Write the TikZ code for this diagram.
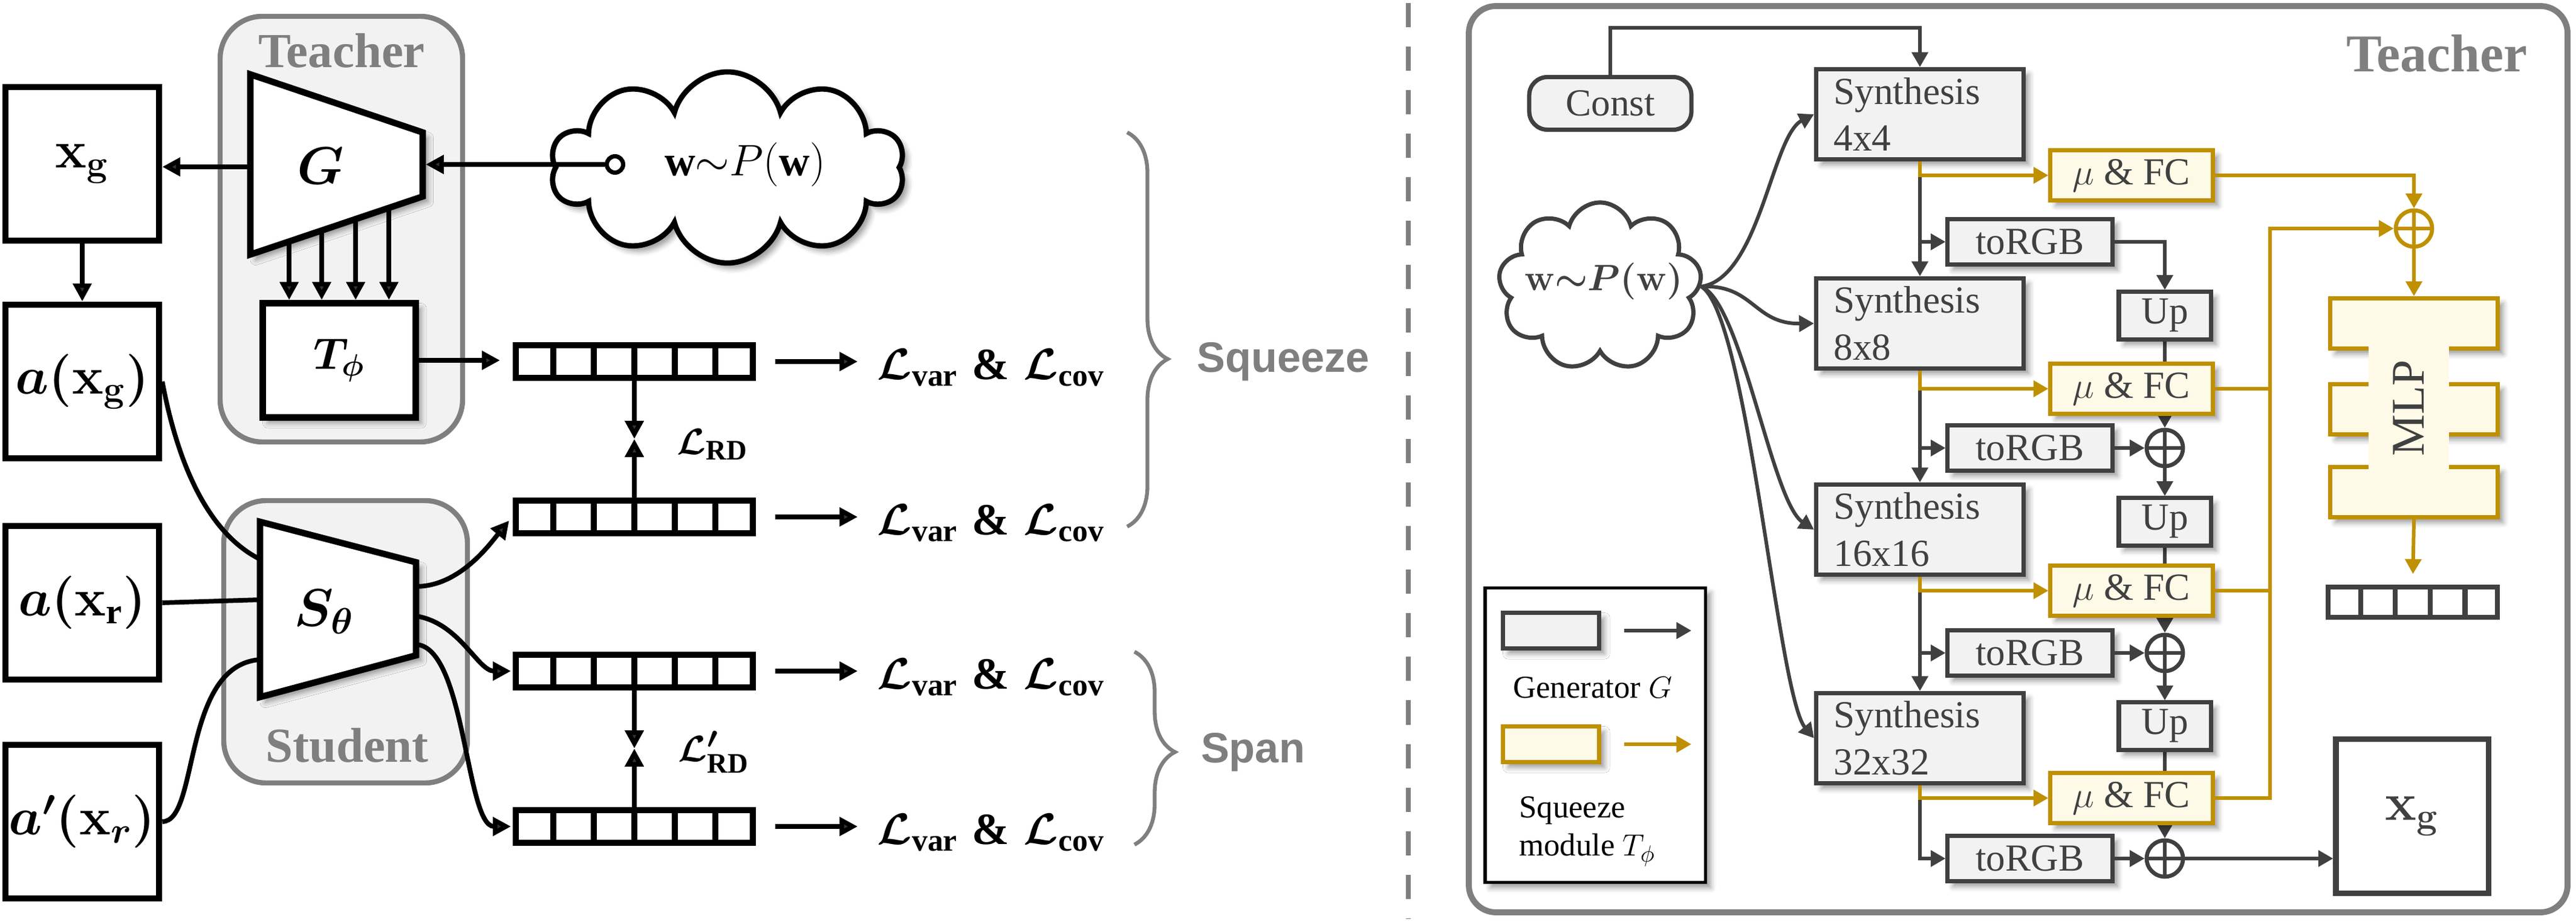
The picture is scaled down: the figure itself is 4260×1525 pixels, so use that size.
\documentclass[tikz,border=0pt]{standalone}
\usepackage{amsmath}
\usepackage{fontspec}
\setmainfont{Liberation Serif}
\newfontfamily\arialfont{Liberation Sans}
\usepackage{tikz}
\usetikzlibrary{arrows.meta,calc,shapes.symbols,shadows.blur,decorations.pathreplacing}
\definecolor{dgray}{HTML}{404040}
\definecolor{mgray}{HTML}{7F7F7F}
\definecolor{lgray}{HTML}{F2F2F2}
\definecolor{gold}{HTML}{BF9000}
\definecolor{cream}{HTML}{FFF9E8}
\pgfdeclarelayer{back}
\pgfsetlayers{back,main}

\tikzset{
  softshadow/.style={blur shadow={shadow xshift=2.5pt,shadow yshift=-2.5pt,shadow blur radius=2.5pt,shadow opacity=40}},
  arr/.style={line width=2.2pt,-{Triangle[length=8.5pt,width=8.5pt]}},
  darr/.style={draw=dgray,line width=1.7pt,-{Triangle[length=7pt,width=7.5pt]}},
  oarr/.style={draw=gold,line width=1.7pt,-{Triangle[length=7pt,width=7.5pt]}},
  oline/.style={draw=gold,line width=1.7pt},
  inbox/.style={draw,line width=3pt,fill=white,minimum width=2.54cm,minimum height=2.54cm,inner sep=0pt,font=\fontsize{24}{28}\selectfont\boldmath},
  vecbox/.style={draw,line width=2.8pt,minimum width=3.92cm,minimum height=0.54cm,inner sep=0pt},
  lossl/.style={anchor=west,inner sep=0pt,font=\fontsize{21}{25}\selectfont\boldmath},
  grp/.style={draw=mgray,fill=lgray,line width=2.4pt,rounded corners=0.7cm},
  grplbl/.style={text=mgray,font=\fontsize{23}{27}\selectfont\bfseries},
  synth/.style={draw=dgray,fill=lgray,line width=2pt,minimum width=3.43cm,minimum height=1.49cm,text width=2.85cm,align=left,inner sep=0pt,text=dgray,font=\fontsize{18}{22}\selectfont,softshadow},
  rgbbox/.style={draw=dgray,fill=lgray,line width=2pt,minimum width=2.72cm,minimum height=0.75cm,inner sep=0pt,text=dgray,font=\fontsize{18}{22}\selectfont,softshadow},
  upbox/.style={rgbbox,minimum width=1.52cm,minimum height=0.78cm},
  fcbox/.style={draw=gold,fill=cream,line width=2pt,minimum width=2.68cm,minimum height=0.82cm,inner sep=0pt,text=dgray,font=\fontsize{18}{22}\selectfont,softshadow},
  sumnode/.style={circle,draw=#1,fill=white,line width=1.9pt,minimum size=0.6cm,inner sep=0pt,
    path picture={\draw[#1,line width=1.9pt] (path picture bounding box.north) -- (path picture bounding box.south) (path picture bounding box.west) -- (path picture bounding box.east);}},
  bar/.style={draw=gold,fill=cream,line width=2pt,minimum width=2.77cm,minimum height=0.83cm,inner sep=0pt,softshadow},
}

\begin{document}
\begin{tikzpicture}[x=0.01cm,y=-0.01cm,line join=miter]
\useasboundingbox (0,0) rectangle (4260,1525);

% groups
\draw[grp] (364,27) rectangle (765,731);
\node[grplbl] (teach) at (565,84) {Teacher};
\draw[grp] (370,828) rectangle (773,1295);
\node[grplbl] (stud) at (574,1233) {Student};

% inputs
\node[inbox] (xg) at (136,271) {$\mathbf{x}_{\mathbf{g}}$};
\node[inbox] (axg) at (136,631) {$a(\mathbf{x}_{\mathbf{g}})$};
\node[inbox] (axr) at (136,997) {$a(\mathbf{x}_{\mathrm{r}})$};
\node[inbox] (apxr) at (136,1359) {$a'(\mathbf{x}_{r})$};

% generator
\coordinate (g1) at (414,123);
\coordinate (g2) at (699,219);
\coordinate (g3) at (699,325);
\coordinate (g4) at (414,421);
\coordinate (gl) at (414,276);
\coordinate (gr) at (704,274);
\draw[line width=3pt,fill=white,softshadow] (g1) -- (g2) -- (g3) -- (g4) -- cycle;
\node[font=\fontsize{25}{30}\selectfont\boldmath] (gname) at (530,274) {$G$};

\node[draw,line width=3pt,fill=white,minimum width=2.53cm,minimum height=1.89cm,inner sep=0pt,
  font=\fontsize{22}{26}\selectfont\boldmath,softshadow] (tphi) at (561,596) {$T_{\phi}$};

% student
\coordinate (s1) at (430,863);
\coordinate (s2) at (688,930);
\coordinate (s3) at (688,1084);
\coordinate (s4) at (430,1153);
\draw[line width=3pt,fill=white,softshadow] (s1) -- (s2) -- (s3) -- (s4) -- cycle;
\node[font=\fontsize{24}{28}\selectfont\boldmath] (sname) at (536,1012) {$S_{\theta}$};

% latent code
\node[cloud,cloud puffs=10,cloud ignores aspect,draw,line width=2.5pt,fill=white,
  minimum width=5.85cm,minimum height=3.16cm,softshadow] (wcl) at (1203,277) {};
\node[font=\fontsize{20}{24}\selectfont] (wtl) at (1232,272) {$\mathbf{w}{\sim}P(\mathbf{w})$};
\node[circle,draw,line width=2pt,fill=white,minimum size=0.27cm,inner sep=0pt] (src) at (1017,272) {};

% vectors
\node[vecbox] (v1) at (1049,598) {};
\node[vecbox] (v2) at (1049,855) {};
\node[vecbox] (v3) at (1049,1110) {};
\node[vecbox] (v4) at (1049,1367) {};
\foreach \vn in {v1,v2,v3,v4}
  \foreach \k in {1,...,5}
    \draw[line width=2.8pt] ($(\vn.north west)!\k/6!(\vn.north east)$) -- ($(\vn.south west)!\k/6!(\vn.south east)$);

\node[lossl] (l1) at (1450,608) {$\mathcal{L}_{\mathrm{var}}\;\&\;\mathcal{L}_{\mathrm{cov}}$};
\node[lossl] (l2) at (1450,865) {$\mathcal{L}_{\mathrm{var}}\;\&\;\mathcal{L}_{\mathrm{cov}}$};
\node[lossl] (l3) at (1450,1120) {$\mathcal{L}_{\mathrm{var}}\;\&\;\mathcal{L}_{\mathrm{cov}}$};
\node[lossl] (l4) at (1450,1377) {$\mathcal{L}_{\mathrm{var}}\;\&\;\mathcal{L}_{\mathrm{cov}}$};
\node[font=\fontsize{19}{23}\selectfont\boldmath] (lrd) at (1178,735) {$\mathcal{L}_{\mathrm{RD}}$};
\node[font=\fontsize{19}{23}\selectfont\boldmath] (lrdp) at (1180,1244) {$\mathcal{L}'_{\mathrm{RD}}$};
\coordinate (m1) at (1049,726);
\coordinate (m2) at (1049,1238);

% arrows left
\draw[arr] (gl) -- (gl -| xg.east);
\draw[arr] (src.west) -- (src.west -| gr);
\draw[arr] (xg.south) -- (axg.north);
\foreach \t in {0.225,0.414,0.611,0.804}
  \draw[arr] ($(g4)!\t!(g3)$) coordinate (p) -- (p |- tphi.north);
\draw[arr,shorten >=6pt] (tphi.east) -- (tphi.east -| v1.west);
\draw[line width=2.2pt] (axg.east) .. controls (300,800) and (360,890) .. (430,925);
\draw[line width=2.2pt] (axr.east) -- (430,992);
\draw[line width=2.2pt] (apxr.east) .. controls (330,1359) and (300,1100) .. (430,1091);
\draw[arr] (688,970) .. controls (760,970) and (810,900) .. ($(v2.west)+(-6,6)$);
\draw[arr] (688,1019) .. controls (760,1030) and (790,1110) .. ($(v3.west)+(-3,0)$);
\draw[arr] (688,1066) .. controls (770,1070) and (770,1367) .. ($(v4.west)+(-3,0)$);
\foreach \a/\b in {v1/l1,v2/l2,v3/l3,v4/l4}
  \draw[arr,shorten <=9pt,shorten >=9pt] (\a.east) -- (\a.east -| \b.west);
\draw[arr] (v1.south) -- (m1);
\draw[arr] (v2.north) -- (m1);
\draw[arr] (v3.south) -- (m2);
\draw[arr] (v4.north) -- (m2);

% braces
\draw[mgray,line width=1.8pt,decorate,decoration={brace,amplitude=0.67cm,aspect=0.575}] (1864,219) -- (1864,871);
\draw[mgray,line width=1.8pt,decorate,decoration={brace,amplitude=0.67cm,aspect=0.52}] (1876,1078) -- (1876,1397);
\node[text=mgray,font=\fontsize{20}{24}\arialfont\bfseries] (sq) at (2122,598) {Squeeze};
\node[text=mgray,font=\fontsize{20}{24}\arialfont\bfseries] (sp) at (2072,1244) {Span};

% separator
\draw[mgray,line width=2.3pt,dash pattern=on 11.4pt off 9.1pt] (2329,5) -- (2329,1520);

% right panel
\draw[mgray,line width=2.8pt,rounded corners=0.45cm] (2429,10) rectangle (4246,1509);
\node[text=mgray,font=\fontsize{25}{30}\selectfont\bfseries] (teachr) at (4030,88) {Teacher};

\node[draw=dgray,fill=lgray,line width=2pt,rounded corners=0.3cm,minimum width=2.68cm,minimum height=0.87cm,
  text=dgray,font=\fontsize{18}{22}\selectfont] (const) at (2663,171) {Const};
\node[cloud,cloud puffs=9,cloud ignores aspect,draw=dgray,line width=2pt,fill=white,
  minimum width=3.36cm,minimum height=2.78cm] (wr) at (2646,474) {};
\node[text=dgray,font=\fontsize{18}{22}\selectfont\boldmath] (wrt) at (2652,465) {$\mathbf{w}{\sim}P(\mathbf{w})$};

\node[synth] (sy1) at (3175,189) {Synthesis\\4x4};
\node[synth] (sy2) at (3175,535) {Synthesis\\8x8};
\node[synth] (sy3) at (3175,876) {Synthesis\\16x16};
\node[synth] (sy4) at (3175,1221) {Synthesis\\32x32};
\node[rgbbox] (t1) at (3357,400) {toRGB};
\node[rgbbox] (t2) at (3357,741) {toRGB};
\node[rgbbox] (t3) at (3357,1080) {toRGB};
\node[rgbbox] (t4) at (3357,1420) {toRGB};
\node[upbox] (u1) at (3580,522) {Up};
\node[upbox] (u2) at (3580,863) {Up};
\node[upbox] (u3) at (3580,1201) {Up};
\node[sumnode=dgray] (p1) at (3580,741) {};
\node[sumnode=dgray] (p2) at (3580,1080) {};
\node[sumnode=dgray] (p3) at (3580,1420) {};
\node[fcbox] (f1) at (3525,290) {$\mu$ \& FC};
\node[fcbox] (f2) at (3525,643) {$\mu$ \& FC};
\node[fcbox] (f3) at (3525,977) {$\mu$ \& FC};
\node[fcbox] (f4) at (3525,1320) {$\mu$ \& FC};
\node[sumnode=gold] (po) at (3992,378) {};

% MLP
\node[bar] (mlp1) at (3992,535) {};
\node[bar] (mlp2) at (3992,677) {};
\node[bar] (mlp3) at (3992,814) {};
\fill[cream] (3917,572) rectangle (4050,777);
\node[rotate=90,text=dgray,font=\fontsize{22}{26}\selectfont] (mlp) at (3983,675) {MLP};

\node[draw=dgray,line width=2.3pt,minimum width=2.8cm,minimum height=0.5cm,inner sep=0pt] (v5) at (3990,996) {};
\foreach \k in {1,...,4}
  \draw[dgray,line width=2.3pt] ($(v5.north west)!\k/5!(v5.north east)$) -- ($(v5.south west)!\k/5!(v5.south east)$);
\node[draw=dgray,line width=2.6pt,fill=white,minimum width=2.52cm,minimum height=2.55cm,text=dgray,
  font=\fontsize{24}{28}\selectfont\boldmath] (xgr) at (3989,1350) {$\mathbf{x}_{\mathbf{g}}$};

% legend
\node[draw,line width=1.5pt,fill=white,minimum width=3.64cm,minimum height=4.87cm,softshadow] (leg) at (2638,1216) {};
\node[draw=dgray,fill=lgray,line width=2pt,minimum width=1.59cm,minimum height=0.59cm,softshadow] (lg1) at (2565,1043) {};
\node[draw=gold,fill=cream,line width=2pt,minimum width=1.59cm,minimum height=0.59cm,softshadow] (lg2) at (2565,1231) {};
\draw[darr] ($(lg1.east)+(38,0)$) -- ++(111,0);
\draw[oarr] ($(lg2.east)+(38,0)$) -- ++(111,0);
\node[anchor=west,font=\fontsize{15}{18}\selectfont] (lgt1) at (2490,1137) {Generator $G$};
\node[anchor=west,align=left,font=\fontsize{15}{18}\selectfont] (lgt2) at (2500,1375) {Squeeze\\module $T_{\phi}$};

% connections right
\coordinate (bus) at (3754,378);
\draw[darr] (const.north) -- ++(0,-78) -| (sy1.north);
\draw[darr] (wr.east) .. controls (2910,460) and (2930,225) .. (sy1.west);
\draw[darr] (wr.east) .. controls (2900,470) and (2900,536) .. (sy2.west);
\draw[darr] (wr.east) .. controls (2880,500) and (2930,830) .. (sy3.west);
\draw[darr] (wr.east) .. controls (2890,520) and (2940,1150) .. (sy4.west);
\foreach \a/\b/\c in {sy1/sy2/t1,sy2/sy3/t2,sy3/sy4/t3}
{
  \draw[darr] (\a.south) -- (\b.north);
  \draw[darr] (\a.south |- \c.west) -- (\c.west);
}
\draw[darr] (sy4.south) |- (t4.west);
\foreach \a/\b in {sy1/f1,sy2/f2,sy3/f3,sy4/f4}
  \draw[oarr] (\a.south) |- (\b.west);
\draw[darr] (t1.east) -| (u1.north);
\begin{pgfonlayer}{back}
\draw[darr] (u1.south) -- (p1.north);
\draw[darr] (u2.south) -- (p2.north);
\draw[darr] (u3.south) -- (p3.north);
\end{pgfonlayer}
\draw[darr] (t2.east) -- (p1.west);
\draw[darr] (t3.east) -- (p2.west);
\draw[darr] (t4.east) -- (p3.west);
\draw[darr] (p1.south) -- (u2.north);
\draw[darr] (p2.south) -- (u3.north);
\draw[darr] (p3.east) -- (p3.east -| xgr.west);
\draw[oarr] (f1.east) -| (po.north);
\draw[oarr] (f4.east) -| (bus) -- (po.west);
\draw[oline] (f2.east) -- (f2.east -| bus);
\draw[oline] (f3.east) -- (f3.east -| bus);
\draw[oarr] (po.south) -- (mlp1.north);
\draw[oarr,shorten >=5pt] (mlp3.south) -- (v5.north);
\end{tikzpicture}
\end{document}
